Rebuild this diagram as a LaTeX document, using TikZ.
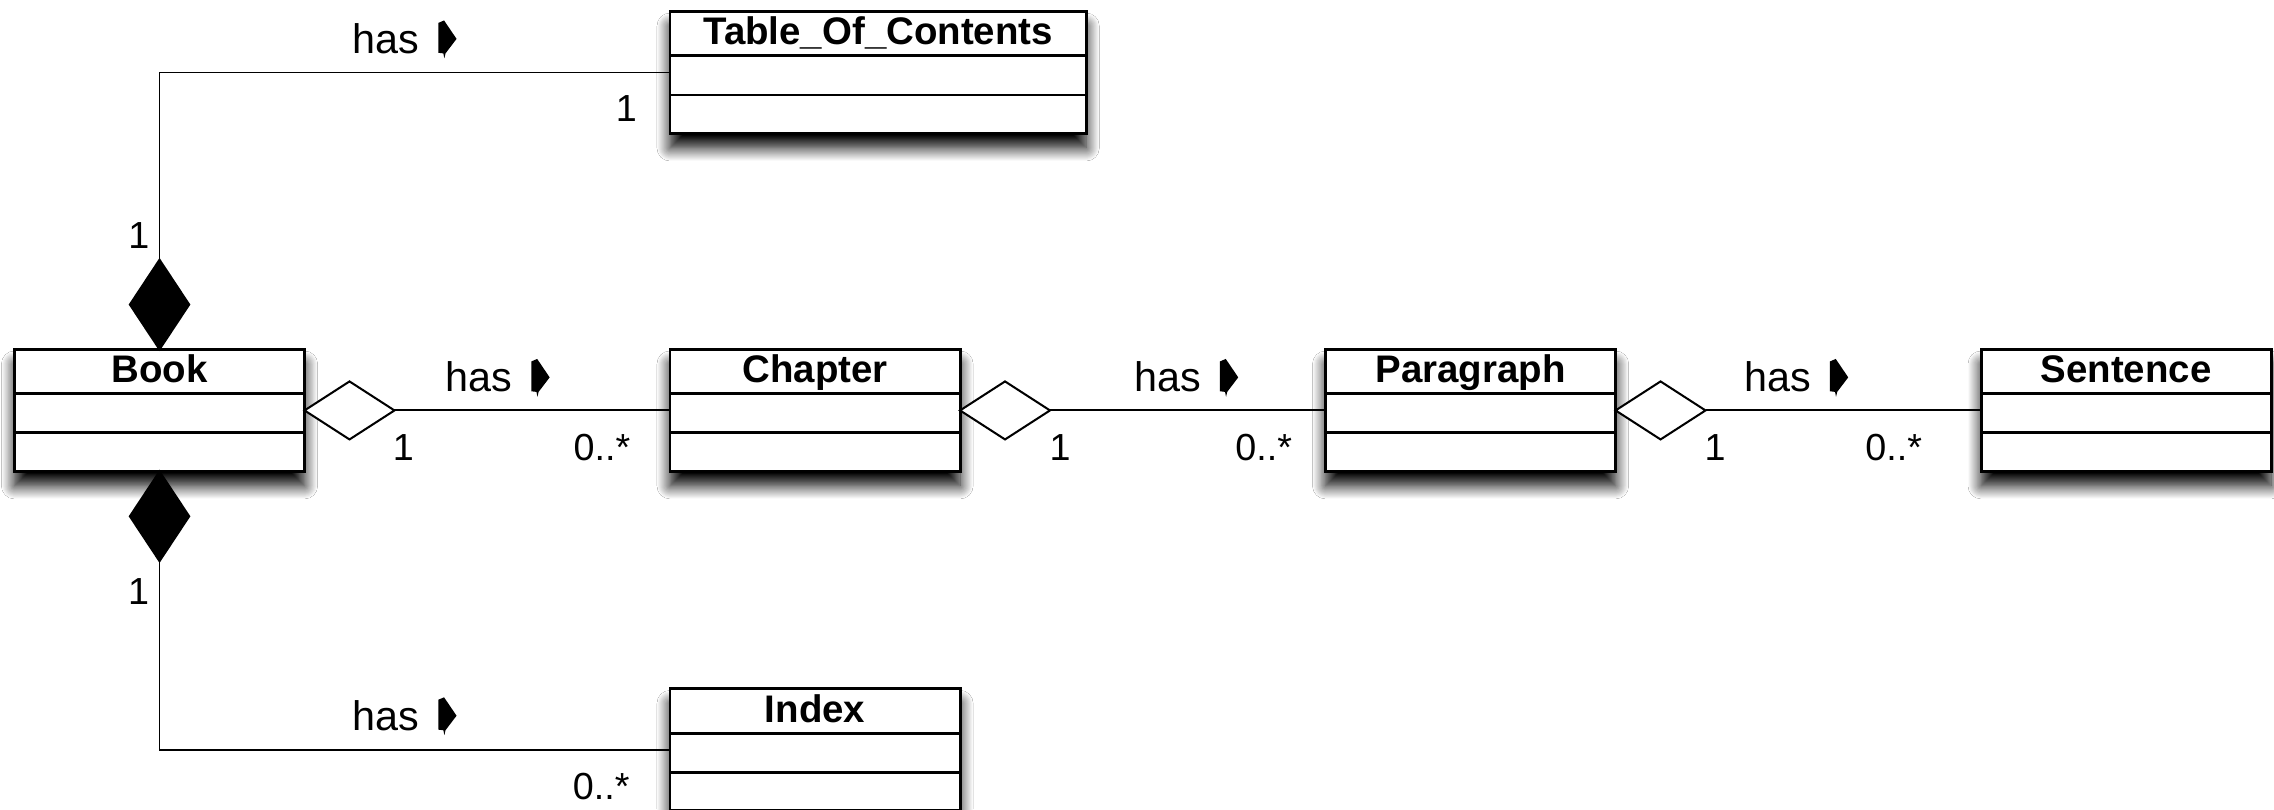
\documentclass[tikz,border=0pt]{standalone}
\usepackage{fontspec}
\setmainfont{Liberation Sans}
\usetikzlibrary{shapes.geometric,shadows.blur,calc}

\tikzset{
  classbox/.style={draw, line width=2pt, fill=white, rectangle,
    inner sep=0pt, outer sep=0pt, anchor=north west, minimum height=84pt,
    blur shadow={shadow xshift=0pt, shadow yshift=-10pt,
                 shadow blur radius=9pt, shadow blur steps=14,
                 shadow opacity=100}},
  classtitle/.style={font=\fontsize{26.5}{30}\selectfont\bfseries,
    anchor=base, inner sep=0pt},
  compart/.style={line width=2pt},
  assoc/.style={line width=1.3pt},
  openagg/.style={diamond, draw, fill=white, line width=1.4pt,
    inner sep=0pt, outer sep=0pt, minimum width=62pt, minimum height=40pt},
  composite/.style={diamond, draw, fill=black, line width=1.3pt,
    inner sep=0pt, outer sep=0pt, minimum width=41pt, minimum height=62pt},
  rolename/.style={font=\fontsize{28.5}{32}\selectfont,
    anchor=base west, inner sep=0pt},
  mult/.style={font=\fontsize{26}{30}\selectfont,
    anchor=base west, inner sep=0pt},
  readdir/.pic={
    \fill (0,2) -- (4,0.3) -- (12.6,13) -- (5,23) -- (4.2,26.4)
          -- (3.5,23) -- (0,22.6) -- cycle;}
}

% class box: name, left, top, width, title
\newcommand\umlclass[5]{%
  \node[classbox, minimum width=#4pt] (#1) at (#2,#3) {};
  \draw[compart] ([yshift=-30.5pt]#1.north west) -- ([yshift=-30.5pt]#1.north east);
  \draw[compart] ([yshift=-57.5pt]#1.north west) -- ([yshift=-57.5pt]#1.north east);
  \node[classtitle] (#1-title) at ([yshift=-23pt]#1.north) {#5};
}

% association name with reading direction: name, x, baseline
\newcommand\rolelabel[3]{%
  \node[rolename] (#1) at (#2,#3) {has};
  \pic at ($(#1.base west)+(59.4,-23)$) {readdir};
}

\begin{document}
\begin{tikzpicture}[x=1pt,y=-1pt]
  \path[use as bounding box, fill=white] (0,0) rectangle (1568,558);

  % classes
  \umlclass{book}{10}{241}{200}{Book}
  \umlclass{chapter}{462}{241}{200}{Chapter}
  \umlclass{paragraph}{914}{241}{200}{Paragraph}
  \umlclass{sentence}{1366}{241}{200}{Sentence}
  \umlclass{toc}{462}{8}{287}{Table\_Of\_Contents}
  \umlclass{index}{462}{475}{200}{Index}

  % whole-part markers
  \node[composite, anchor=south] (comptop) at (book.north) {};
  \node[composite, anchor=north] (compbot) at (book.south) {};
  \node[openagg, anchor=west] (agg1) at (book.east) {};
  \node[openagg, anchor=west] (agg2) at (chapter.east) {};
  \node[openagg, anchor=west] (agg3) at (paragraph.east) {};

  % associations
  \draw[assoc] (comptop.north) |- (toc.west);
  \draw[assoc] (compbot.south) |- (index.west);
  \draw[assoc] (agg1.east) -- (chapter.west);
  \draw[assoc] (agg2.east) -- (paragraph.west);
  \draw[assoc] (agg3.east) -- (sentence.west);

  % association names
  \rolelabel{has-toc}{242.8}{36.8}
  \rolelabel{has-index}{242.8}{503.5}
  \rolelabel{has-chapter}{307}{270.2}
  \rolelabel{has-paragraph}{781.8}{270.2}
  \rolelabel{has-sentence}{1202.4}{270.2}

  % multiplicities
  \node[mult] (m-toc-book) at (88.4,171) {1};
  \node[mult] (m-toc) at (424.5,83.9) {1};
  \node[mult] (m-index-book) at (88.2,417) {1};
  \node[mult] (m-index) at (394.8,551.5) {0..*};
  \node[mult] (m-book) at (270.7,317.3) {1};
  \node[mult] (m-chapter) at (395.4,317.5) {0..*};
  \node[mult] (m-chapter2) at (723.5,317.5) {1};
  \node[mult] (m-paragraph) at (851.6,317.5) {0..*};
  \node[mult] (m-paragraph2) at (1175.1,317.5) {1};
  \node[mult] (m-sentence) at (1286.0,317.5) {0..*};
\end{tikzpicture}
\end{document}
